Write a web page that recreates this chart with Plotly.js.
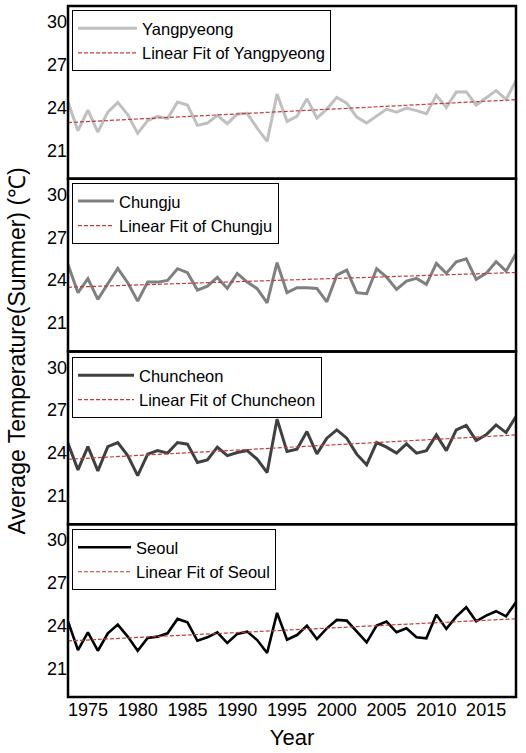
<!DOCTYPE html>
<html>
<head>
<meta charset="utf-8">
<script src="https://cdn.plot.ly/plotly-3.0.1.min.js"></script>
<style>html,body{margin:0;padding:0;background:#fff;}#chart{width:526px;height:753px;}</style>
</head>
<body>
<div id="chart"></div>
<script>
const years = [1973,1974,1975,1976,1977,1978,1979,1980,1981,1982,1983,1984,1985,1986,1987,1988,1989,1990,1991,1992,1993,1994,1995,1996,1997,1998,1999,2000,2001,2002,2003,2004,2005,2006,2007,2008,2009,2010,2011,2012,2013,2014,2015,2016,2017,2018];

const yangpyeong = [24.37,22.37,23.81,22.27,23.67,24.35,23.49,22.18,23.07,23.37,23.21,24.37,24.16,22.74,22.90,23.44,22.86,23.53,23.58,22.55,21.62,24.93,23.02,23.37,24.61,23.25,23.88,24.70,24.30,23.32,22.90,23.42,23.88,23.67,23.95,23.77,23.56,24.84,24.00,25.07,25.10,24.16,24.65,25.17,24.56,25.87];
const chungju = [25.10,23.12,24.10,22.65,23.75,24.82,23.82,22.53,23.86,23.86,23.98,24.80,24.52,23.30,23.58,24.19,23.42,24.47,23.86,23.40,22.41,25.22,23.12,23.47,23.47,23.42,22.48,24.35,24.70,23.12,23.05,24.80,24.21,23.35,23.93,24.12,23.70,25.17,24.47,25.29,25.50,24.05,24.47,25.29,24.63,25.85];
const chuncheon = [24.68,22.81,24.44,22.74,24.44,24.72,23.81,22.41,23.91,24.16,23.98,24.72,24.61,23.32,23.51,24.40,23.81,24.02,24.16,23.56,22.62,26.36,24.09,24.26,25.49,23.93,25.03,25.61,25.03,23.91,23.16,24.72,24.40,23.98,24.63,23.98,24.16,25.26,24.16,25.61,25.92,24.86,25.26,25.96,25.42,26.55];
const seoul = [24.30,22.29,23.53,22.24,23.46,24.07,23.23,22.24,23.13,23.23,23.46,24.47,24.23,22.94,23.18,23.53,22.78,23.42,23.58,22.99,22.08,24.89,23.01,23.34,24.00,23.06,23.81,24.40,24.35,23.60,22.83,24.00,24.28,23.53,23.81,23.18,23.11,24.77,23.77,24.63,25.29,24.30,24.70,25.01,24.65,25.64];

const stationNames = ["Yangpyeong","Chungju","Chuncheon","Seoul"];
const stationColors = ["#c0c0c0","#808080","#404040","#000000"];
const stationWidths = [3,3,3,2.6];
const xTicks = [1975,1980,1985,1990,1995,2000,2005,2010,2015];
const yTicks = [21,24,27,30];

const series = [yangpyeong, chungju, chuncheon, seoul];

function linearFit(x, y) {
  const n = x.length;
  let sx=0, sy=0, sxx=0, sxy=0;
  for (let i=0;i<n;i++){sx+=x[i];sy+=y[i];sxx+=x[i]*x[i];sxy+=x[i]*y[i];}
  const b = (n*sxy - sx*sy)/(n*sxx - sx*sx);
  const a = (sy - b*sx)/n;
  return x.map(v => a + b*v);
}

const FONT = "Liberation Sans, Arial, sans-serif";
const domains = [[0.75,1],[0.5,0.75],[0.25,0.5],[0,0.25]];
const legendTops = [0.994,0.744,0.492,0.243];
const legendItemWidths = [59,36,56,53];

const traces = [];
const layout = {
  width: 526, height: 753,
  margin: {l: 68, r: 10, t: 6, b: 56},
  paper_bgcolor: "#fff", plot_bgcolor: "#fff",
  font: {family: FONT, color: "#000", size: 18},
  showlegend: true,
  hovermode: false,
  xaxis: {
    range: [1973, 2018], tickvals: xTicks, ticks: "", showgrid: false, zeroline: false,
    showline: false, anchor: "y4", tickfont: {size: 18, family: FONT},
    title: {text: "Year", font: {size: 22, family: FONT}, standoff: 10}
  },
  shapes: [],
  annotations: [{
    text: "Average Temperature(Summer) (℃)", textangle: -90,
    xref: "paper", yref: "paper", x: -0.116, y: 0.5, xanchor: "center", yanchor: "middle",
    showarrow: false, font: {size: 23, family: FONT}
  }]
};

for (let k = 0; k < 4; k++) {
  const yk = k === 0 ? "y" : "y" + (k + 1);
  const yaxisKey = k === 0 ? "yaxis" : "yaxis" + (k + 1);
  const legKey = k === 0 ? "legend" : "legend" + (k + 1);
  layout[yaxisKey] = {
    domain: domains[k], range: [19, 31.1], tickvals: yTicks, ticks: "",
    showgrid: false, zeroline: false, showline: false, anchor: "x",
    tickfont: {size: 18, family: FONT}
  };
  layout[legKey] = {
    x: 0.009, y: legendTops[k], xanchor: "left", yanchor: "top",
    xref: "paper", yref: "paper",
    bgcolor: "#fff", bordercolor: "#000", borderwidth: 1,
    font: {size: 16.5, family: FONT}, tracegroupgap: 0,
    itemwidth: legendItemWidths[k]
  };
  traces.push({
    x: years, y: series[k], type: "scatter", mode: "lines", xaxis: "x", yaxis: yk,
    name: stationNames[k], legend: legKey,
    line: {color: stationColors[k], width: stationWidths[k]}
  });
  traces.push({
    x: years, y: linearFit(years, series[k]), type: "scatter", mode: "lines", xaxis: "x", yaxis: yk,
    name: "Linear Fit of " + stationNames[k], legend: legKey,
    line: {color: "#c43c3c", width: 1.2, dash: "4px,2px"}
  });
  layout.shapes.push({
    type: "rect", xref: "paper", yref: "paper", x0: 0, x1: 1,
    y0: domains[k][0], y1: domains[k][1], line: {color: "#000", width: 2.5}, layer: "above"
  });
}

Plotly.newPlot("chart", traces, layout, {displayModeBar: false, staticPlot: true});
</script>
</body>
</html>
